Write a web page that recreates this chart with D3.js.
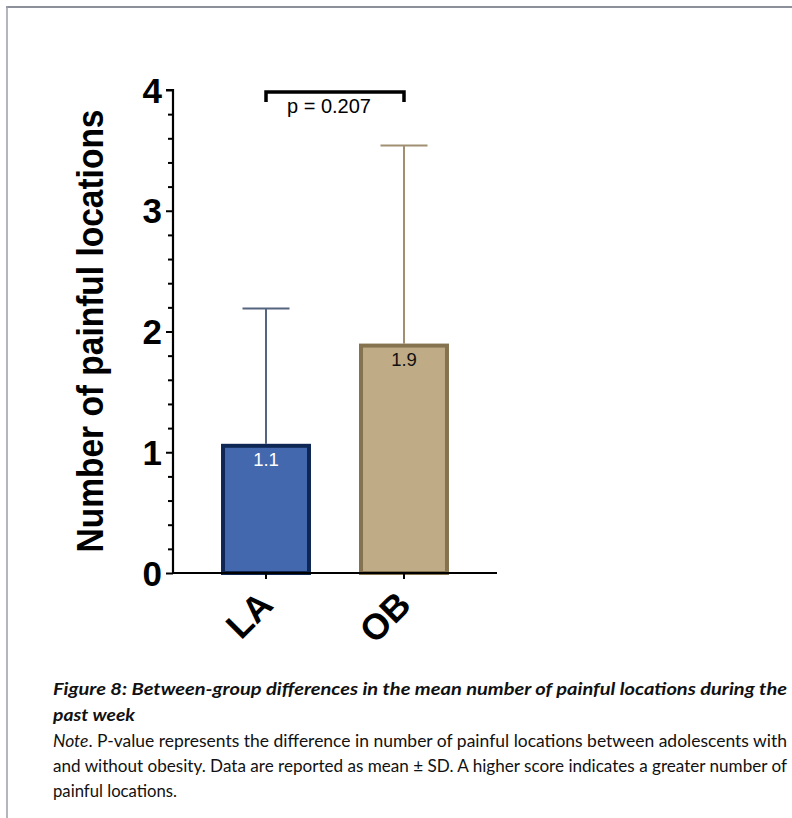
<!DOCTYPE html>
<html>
<head>
<meta charset="utf-8">
<script src="https://cdn.jsdelivr.net/npm/d3@7"></script>
<style>
    body { margin: 0; background: #fff; }
    svg { display: block; }
</style>
</head>
<body>
<svg id="chart" width="792" height="818"></svg>
<script>
// Chart data
const groups = ['LA', 'OB'];
const means = [1.07, 1.90];
const sds = [1.12, 1.64];
const meanLabels = ['1.1', '1.9'];
const yTicks = [0, 1, 2, 3, 4];
const pLabel = 'p = 0.207';
const yTitle = 'Number of painful locations';

const captionTitle = [
    'Figure 8: Between-group differences in the mean number of painful locations during the',
    'past week'
];
const noteLines = [
    ['Note', '. P-value represents the difference in number of painful locations between adolescents with'],
    ['', 'and without obesity. Data are reported as mean \u00b1 SD. A higher score indicates a greater number of'],
    ['', 'painful locations.']
];

const fills = ['#4468ae', '#bfab86'];
const strokes = ['#0f2754', '#85734f'];
const errColors = ['#56657f', '#a08f70'];

const svg = d3.select('#chart');

// Page frame
svg.append('line').attr('x1', 6).attr('x2', 792).attr('y1', 7).attr('y2', 7)
    .attr('stroke', '#8b909a').attr('stroke-width', 2);
svg.append('line').attr('x1', 7).attr('x2', 7).attr('y1', 6).attr('y2', 818)
    .attr('stroke', '#9a9ea6').attr('stroke-width', 1.5);

const plotLeft = 173, plotRight = 497, plotTop = 90, plotBottom = 573;

const y = d3.scaleLinear().domain([0, 4]).range([plotBottom, plotTop]);
const x = d3.scaleBand().domain(groups).range([plotLeft, plotRight]).padding(0.348);

const fontBold = 'Liberation Sans, Arial, sans-serif';

// Bars
groups.forEach((g, i) => {
    const bx = x(g), bw = x.bandwidth();
    const cx = bx + bw / 2;
    const sw = 4;

    // error bar (upper only)
    const yTop = y(means[i] + sds[i]);
    svg.append('line')
        .attr('x1', cx).attr('x2', cx)
        .attr('y1', y(means[i])).attr('y2', yTop)
        .attr('stroke', errColors[i]).attr('stroke-width', 2);
    svg.append('line')
        .attr('x1', cx - 23.5).attr('x2', cx + 23.5)
        .attr('y1', yTop).attr('y2', yTop)
        .attr('stroke', errColors[i]).attr('stroke-width', 2);

    svg.append('rect')
        .attr('x', bx + sw / 2)
        .attr('y', y(means[i]) + sw / 2)
        .attr('width', bw - sw)
        .attr('height', y(0) - y(means[i]) - sw / 2)
        .attr('fill', fills[i])
        .attr('stroke', strokes[i])
        .attr('stroke-width', sw);

    svg.append('text')
        .attr('x', cx)
        .attr('y', y(means[i]) + 22)
        .attr('text-anchor', 'middle')
        .style('font-family', 'Liberation Sans, Arial, sans-serif')
        .style('font-size', '18.5px')
        .style('fill', i === 0 ? '#ffffff' : '#111111')
        .text(meanLabels[i]);
});

// Y axis
const yAxis = d3.axisLeft(y)
    .tickValues(d3.range(0, 4.0001, 0.2))
    .tickSize(5)
    .tickFormat('');
const yg = svg.append('g').attr('transform', `translate(${plotLeft},0)`).call(yAxis);
yg.select('.domain').attr('d', `M-7,${plotTop}H0V${plotBottom}`).attr('stroke-width', 2.2);
yg.selectAll('.tick line').attr('stroke-width', 2).attr('x2', d => {
    return Math.abs(d - Math.round(d)) < 1e-6 ? -7 : -5;
});
yg.append('g').selectAll('text')
    .data(yTicks)
    .join('text')
    .attr('x', -11)
    .attr('y', d => y(d))
    .attr('dy', '0.36em')
    .attr('text-anchor', 'end')
    .style('font-family', fontBold)
    .style('font-weight', 'bold')
    .style('font-size', '35px')
    .style('fill', '#000')
    .text(d => d);

// X axis
const xAxis = d3.axisBottom(x).tickSize(6).tickFormat('');
const xg = svg.append('g').attr('transform', `translate(0,${plotBottom})`).call(xAxis);
xg.select('.domain').attr('d', `M${plotLeft},0H${plotRight}`).attr('stroke-width', 2.2);
xg.selectAll('.tick line').attr('stroke-width', 2);

svg.append('g').selectAll('text')
    .data(groups)
    .join('text')
    .attr('transform', d => `translate(${x(d) + x.bandwidth() / 2 - 9},${plotBottom + 16}) rotate(-45)`)
    .attr('text-anchor', 'end')
    .attr('dy', '0.7em')
    .style('font-family', fontBold)
    .style('font-weight', 'bold')
    .style('font-size', '36px')
    .text(d => d);

// Y title
svg.append('text')
    .attr('transform', `translate(103,331) rotate(-90)`)
    .attr('text-anchor', 'middle')
    .attr('textLength', 443)
    .attr('lengthAdjust', 'spacingAndGlyphs')
    .style('font-family', fontBold)
    .style('font-weight', 'bold')
    .style('font-size', '37px')
    .text(yTitle);

// Significance bracket
const bx1 = x('LA') + x.bandwidth() / 2;
const bx2 = x('OB') + x.bandwidth() / 2;
const by = y(4) + 2;
svg.append('path')
    .attr('d', `M${bx1},${by + 10}V${by}H${bx2}V${by + 10}`)
    .attr('fill', 'none')
    .attr('stroke', '#000')
    .attr('stroke-width', 3.5);
svg.append('text')
    .attr('x', (bx1 + bx2) / 2 - 6)
    .attr('y', by + 21)
    .attr('text-anchor', 'middle')
    .style('font-family', 'Liberation Sans, Arial, sans-serif')
    .style('font-size', '20px')
    .text(pLabel);

// Caption
const capFont = 'Lato, Open Sans, sans-serif';
const capX = 53, capW = 734;
svg.append('text')
    .attr('x', capX).attr('y', 695)
    .attr('textLength', capW).attr('lengthAdjust', 'spacingAndGlyphs')
    .style('font-family', capFont).style('font-weight', 'bold').style('font-style', 'italic')
    .style('font-size', '17px').style('fill', '#111')
    .text(captionTitle[0]);
svg.append('text')
    .attr('x', capX).attr('y', 721)
    .style('font-family', capFont).style('font-weight', 'bold').style('font-style', 'italic')
    .style('font-size', '17px').style('fill', '#111')
    .attr('textLength', 82).attr('lengthAdjust', 'spacingAndGlyphs')
    .text(captionTitle[1]);

const noteY = [747, 772, 797];
const noteW = [734, 734, 124];
noteLines.forEach((ln, i) => {
    const t = svg.append('text')
        .attr('x', capX).attr('y', noteY[i])
        .attr('textLength', noteW[i]).attr('lengthAdjust', 'spacingAndGlyphs')
        .style('font-family', capFont)
        .style('font-size', '16.5px').style('fill', '#111');
    if (ln[0]) t.append('tspan').style('font-style', 'italic').text(ln[0]);
    t.append('tspan').text(ln[1]);
});
</script>
</body>
</html>
